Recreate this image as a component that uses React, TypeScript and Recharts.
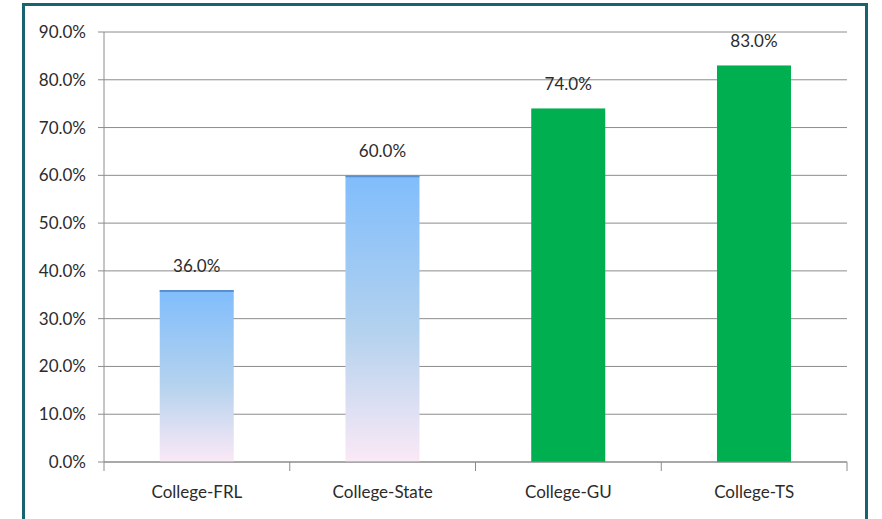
import { BarChart, Bar, XAxis, YAxis, CartesianGrid, LabelList } from 'recharts';

const categories = ['College-FRL', 'College-State', 'College-GU', 'College-TS'];
const rates = [36, 60, 74, 83];
const yTicks = [0, 10, 20, 30, 40, 50, 60, 70, 80, 90];

const data = categories.map((name, i) => ({ name, rate: rates[i] }));

const FONT = 'Lato, "Open Sans", sans-serif';
const TEXT = '#2b2b2b';
const AXIS = '#8c8c8c';
const X_MARGIN = 24;

// blue bars get a gradient fill with a darker rule on top, green bars are flat
const GradientBar = (props: any) => {
  const { x, y, width, height, index } = props;
  if (index >= 2) {
    return <rect x={x} y={y} width={width} height={height} fill="#00b050" />;
  }
  return (
    <g>
      <rect x={x} y={y} width={width} height={height} fill="url(#blueFade)" />
      <line x1={x} x2={x + width} y1={y + 1} y2={y + 1} stroke="#5a8fd0" strokeWidth={2} />
    </g>
  );
};

// category label plus Excel-style tick marks on the band edges
const CategoryTick = (props: any) => {
  const { x, y, payload, index } = props;
  const half = payload.offset || 0;
  const axisY = y - X_MARGIN;
  return (
    <g>
      <line x1={x - half} x2={x - half} y1={axisY} y2={axisY + 9} stroke={AXIS} />
      {index === categories.length - 1 && (
        <line x1={x + half} x2={x + half} y1={axisY} y2={axisY + 9} stroke={AXIS} />
      )}
      <text x={x} y={y} dy="0.71em" textAnchor="middle" fontSize={17} fill={TEXT} fontFamily={FONT}>
        {payload.value}
      </text>
    </g>
  );
};

export default function App() {
  return (
    <div style={{ position: 'absolute', left: 0, top: 0, width: 882, height: 519, background: '#fff', overflow: 'hidden' }}>
      <div
        style={{
          position: 'absolute', left: 22, top: 3, width: 846, height: 540,
          border: '3px solid #17636f', boxSizing: 'border-box',
        }}
      />
      <BarChart
        width={882}
        height={519}
        data={data}
        margin={{ top: 32, right: 35, bottom: 0, left: 0 }}
        barCategoryGap="30%"
        style={{ position: 'absolute', left: 0, top: 0, fontFamily: FONT }}
      >
        <defs>
          <linearGradient id="blueFade" x1="0" y1="0" x2="0" y2="1">
            <stop offset="0%" stopColor="#80bdfc" />
            <stop offset="55%" stopColor="#b4d2ee" />
            <stop offset="100%" stopColor="#fbe9f6" />
          </linearGradient>
        </defs>
        <CartesianGrid vertical={false} stroke={AXIS} strokeWidth={1} />
        <XAxis
          dataKey="name"
          stroke={AXIS}
          tickLine={false}
          tickSize={0}
          tickMargin={X_MARGIN}
          tick={CategoryTick}
          height={57}
        />
        <YAxis
          domain={[0, 90]}
          ticks={yTicks}
          width={104}
          tickSize={6}
          tickMargin={12}
          stroke={AXIS}
          tickFormatter={(v: number) => `${v.toFixed(1)}%`}
          tick={{ fontSize: 17, fill: TEXT, fontFamily: FONT }}
        />
        <Bar dataKey="rate" shape={GradientBar} isAnimationActive={false}>
          <LabelList
            dataKey="rate"
            position="top"
            offset={18}
            formatter={(v: any) => `${Number(v).toFixed(1)}%`}
            style={{ fontSize: 17, fill: TEXT, fontFamily: FONT }}
          />
        </Bar>
      </BarChart>
    </div>
  );
}
